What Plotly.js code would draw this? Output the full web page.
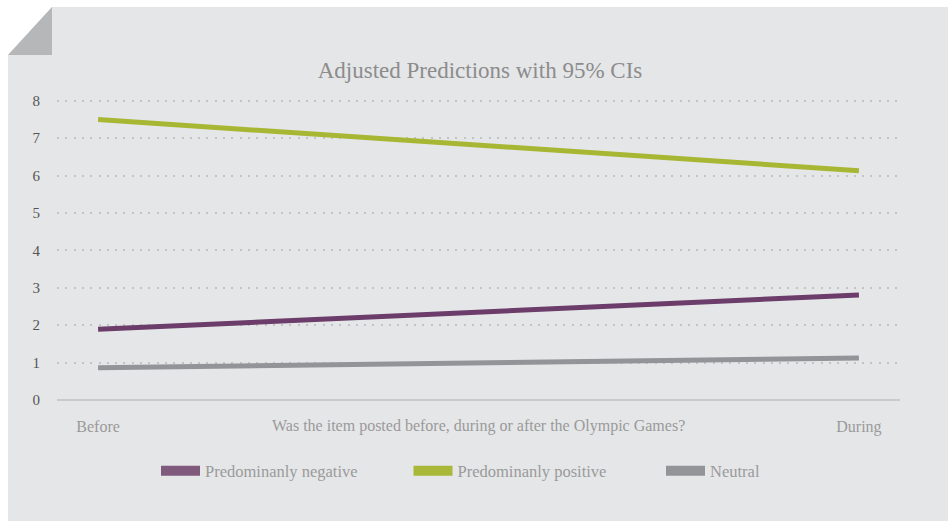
<!DOCTYPE html>
<html>
<head>
<meta charset="utf-8">
<script src="https://cdn.plot.ly/plotly-3.0.1.min.js"></script>
<style>html,body{margin:0;padding:0;background:#fff;}#chart{width:948px;height:521px;}</style>
</head>
<body>
<div id="chart"></div>
<script>
// ---- data ----
const periods = ["Before", "During"];
const periodPos = [0, 1];
const negative = [1.89, 2.81];
const positive = [7.50, 6.13];
const neutral = [0.86, 1.12];
const seriesNames = ["Predominanly negative", "Predominanly positive", "Neutral"];
const yTicks = [0, 1, 2, 3, 4, 5, 6, 7, 8];
const titleText = "Adjusted Predictions with 95% CIs";
const xTitleText = "Was the item posted before, during or after the Olympic Games?";

// ---- styles ----
const FONT = "Liberation Serif, Times New Roman, serif";
const lineColors = ["#6c3c6b", "#a8b733", "#939497"];
const legendColors = ["#7f5a7d", "#a9b838", "#939497"];

const W = 948, H = 521;
const M = {l: 57, r: 48, t: 97, b: 117};
const pw = W - M.l - M.r, ph = H - M.t - M.b;
const px = x => (x - M.l) / pw;
const py = y => (H - M.b - y) / ph;

const seriesVals = [negative, positive, neutral];
const traces = [];
seriesVals.forEach((vals, i) => {
  traces.push({
    x: periodPos, y: vals, type: "scatter", mode: "lines",
    line: {color: lineColors[i], width: 5},
    showlegend: false, hoverinfo: "skip"
  });
});
seriesNames.forEach((name, i) => {
  traces.push({
    x: [null], y: [null], type: "scatter", mode: "lines", name: name,
    line: {color: legendColors[i], width: 11},
    showlegend: true
  });
});

const layout = {
  width: W, height: H,
  margin: M,
  paper_bgcolor: "#ffffff",
  plot_bgcolor: "rgba(0,0,0,0)",
  font: {family: FONT, size: 14, color: "#999999"},
  title: {
    text: titleText,
    font: {family: FONT, size: 23, color: "#8c8c8c"},
    x: px(480), xref: "paper", xanchor: "center",
    y: 1 - 70 / H, yanchor: "middle"
  },
  xaxis: {
    range: [-0.054, 1.054],
    tickvals: periodPos, ticktext: periods,
    showgrid: false, zeroline: false, showline: false,
    ticks: "", ticklabelstandoff: 11,
    tickfont: {family: FONT, size: 16, color: "#9a9a9a"}
  },
  yaxis: {
    range: [-0.107, 8.102],
    tickvals: yTicks,
    showgrid: true, gridcolor: "#c2c3c5", gridwidth: 2, griddash: "2px,6.3px",
    zeroline: true, zerolinecolor: "#c9cacc", zerolinewidth: 2,
    showline: false, ticks: "", ticklabelstandoff: 16,
    tickfont: {family: FONT, size: 15, color: "#555555"}
  },
  showlegend: true,
  legend: {
    orientation: "h",
    xref: "container", yref: "container",
    x: 156 / W, xanchor: "left",
    y: 1 - 471 / H, yanchor: "middle",
    bgcolor: "rgba(0,0,0,0)",
    font: {family: FONT, size: 16.5, color: "#9a9a9a"},
    itemwidth: 39,
    entrywidth: 198.5, entrywidthmode: "pixels",
    traceorder: "normal"
  },
  annotations: [{
    text: xTitleText, showarrow: false,
    xref: "paper", yref: "paper",
    x: px(478), y: py(426), xanchor: "center", yanchor: "middle",
    font: {family: FONT, size: 16, color: "#9a9a9a"}
  }],
  shapes: [
    {type: "path", xref: "paper", yref: "paper", layer: "below",
     path: `M${px(8)},${py(55)} L${px(52)},${py(7)} L${px(948)},${py(7)} L${px(948)},${py(521)} L${px(8)},${py(521)} Z`,
     fillcolor: "#e5e6e8", line: {width: 0}},
    {type: "path", xref: "paper", yref: "paper", layer: "below",
     path: `M${px(52)},${py(7)} L${px(8)},${py(55)} L${px(52)},${py(55)} Z`,
     fillcolor: "#b6b7b9", line: {width: 0}}
  ]
};

Plotly.newPlot("chart", traces, layout, {displayModeBar: false, staticPlot: true});
</script>
</body>
</html>
